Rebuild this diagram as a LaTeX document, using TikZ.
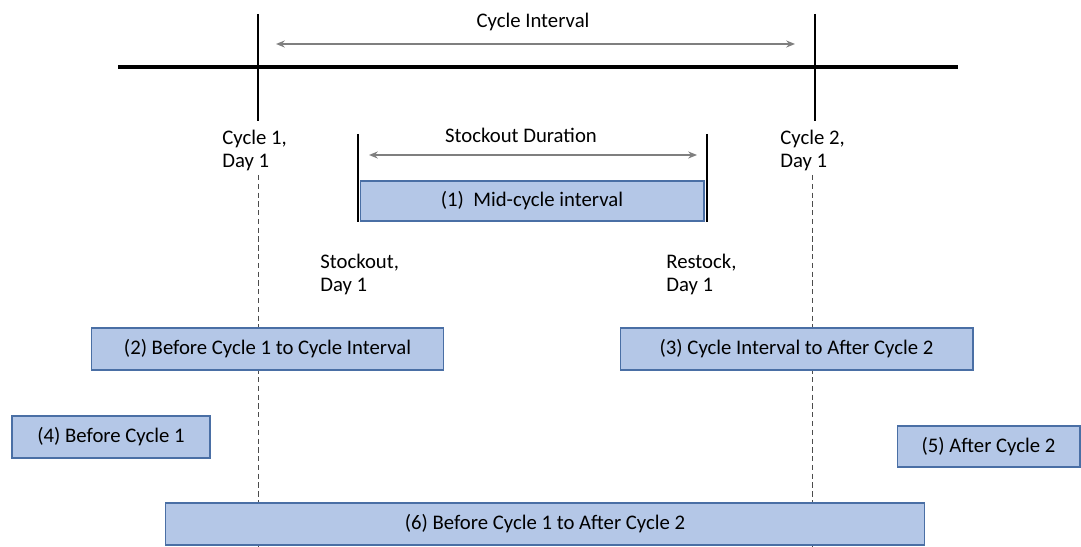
\documentclass[tikz,border=0pt]{standalone}
\usepackage{fontspec}
\setmainfont{Carlito}
\usetikzlibrary{arrows.meta}

\definecolor{boxfill}{HTML}{B4C7E7}
\definecolor{boxline}{HTML}{4A6FA5}
\definecolor{arrowgray}{HTML}{7F7F7F}

\tikzset{
  period/.style={draw=boxline, fill=boxfill, line width=0.6pt, inner sep=0pt},
  daylabel/.style={anchor=north west, align=left, inner sep=0pt, font=\fontsize{11.8}{13}\selectfont},
  spanlabel/.style={inner sep=0pt, font=\fontsize{11.8}{13}\selectfont},
  span/.style={{Stealth[length=5pt,width=4pt]}-{Stealth[length=5pt,width=4pt]}, arrowgray, line width=0.9pt},
  marker/.style={line width=1.1pt},
  guide/.style={dash pattern=on 3pt off 2pt, line width=0.5pt, black!70}
}

\begin{document}
\begin{tikzpicture}[x=0.02cm, y=-0.02cm, font=\fontsize{11.8}{13}\selectfont]
            \useasboundingbox (0,0) rectangle (1081,547);
            % timeline
            \coordinate (lineL) at (118,67);
            \coordinate (lineR) at (958,67);
            \draw [line width=2.3pt] (lineL) -- (lineR);
            \coordinate (c1top) at (258,14);
            \coordinate (c1bot) at (258,121);
            \coordinate (c2top) at (815,14);
            \coordinate (c2bot) at (815,121);
            \draw [marker] (c1top) -- (c1bot);
            \draw [marker] (c2top) -- (c2bot);
            \coordinate (ciL) at (276,44);
            \coordinate (ciR) at (795,44);
            \draw [span] (ciL) -- (ciR);
            \node [spanlabel] (ci) at (533,22) {Cycle Interval};
            \node [daylabel] (c1day) at (222,130) {Cycle 1,\\Day 1};
            \node [daylabel] (c2day) at (780,130) {Cycle 2,\\Day 1};
            % stockout
            \coordinate (soTop) at (358,134);
            \coordinate (soBot) at (358,222);
            \coordinate (rsTop) at (707,134);
            \coordinate (rsBot) at (707,222);
            \draw [marker] (soTop) -- (soBot);
            \draw [marker] (rsTop) -- (rsBot);
            \coordinate (sdL) at (369,155);
            \coordinate (sdR) at (697,155);
            \draw [span] (sdL) -- (sdR);
            \node [spanlabel] (sd) at (521,135) {Stockout Duration};
            \node [daylabel] (soday) at (320,254) {Stockout,\\Day 1};
            \node [daylabel] (rsday) at (666,254) {Restock,\\Day 1};
            % guides
            \coordinate (g1top) at (258,175);
            \coordinate (g1bot) at (258,547);
            \coordinate (g2top) at (812,175);
            \coordinate (g2bot) at (812,547);
            \draw [guide] (g1top) -- (g1bot);
            \draw [guide] (g2top) -- (g2bot);
            % periods
            \node [period, minimum width=6.88cm, minimum height=0.8cm] (p1) at (532,201) {(1)\ \ Mid-cycle interval};
            \node [period, minimum width=7.06cm, minimum height=0.84cm] (p2) at (267.5,349) {(2) Before Cycle 1 to Cycle Interval};
            \node [period, minimum width=7.06cm, minimum height=0.84cm] (p3) at (796.5,349) {(3) Cycle Interval to After Cycle 2};
            \node [period, minimum width=3.96cm, minimum height=0.84cm] (p4) at (111,437) {(4) Before Cycle 1};
            \node [period, minimum width=3.66cm, minimum height=0.82cm] (p5) at (988.5,446.5) {(5) After Cycle 2};
            \node [period, minimum width=15.2cm, minimum height=0.84cm] (p6) at (545,524) {(6) Before Cycle 1 to After Cycle 2};
        \end{tikzpicture}
\end{document}
